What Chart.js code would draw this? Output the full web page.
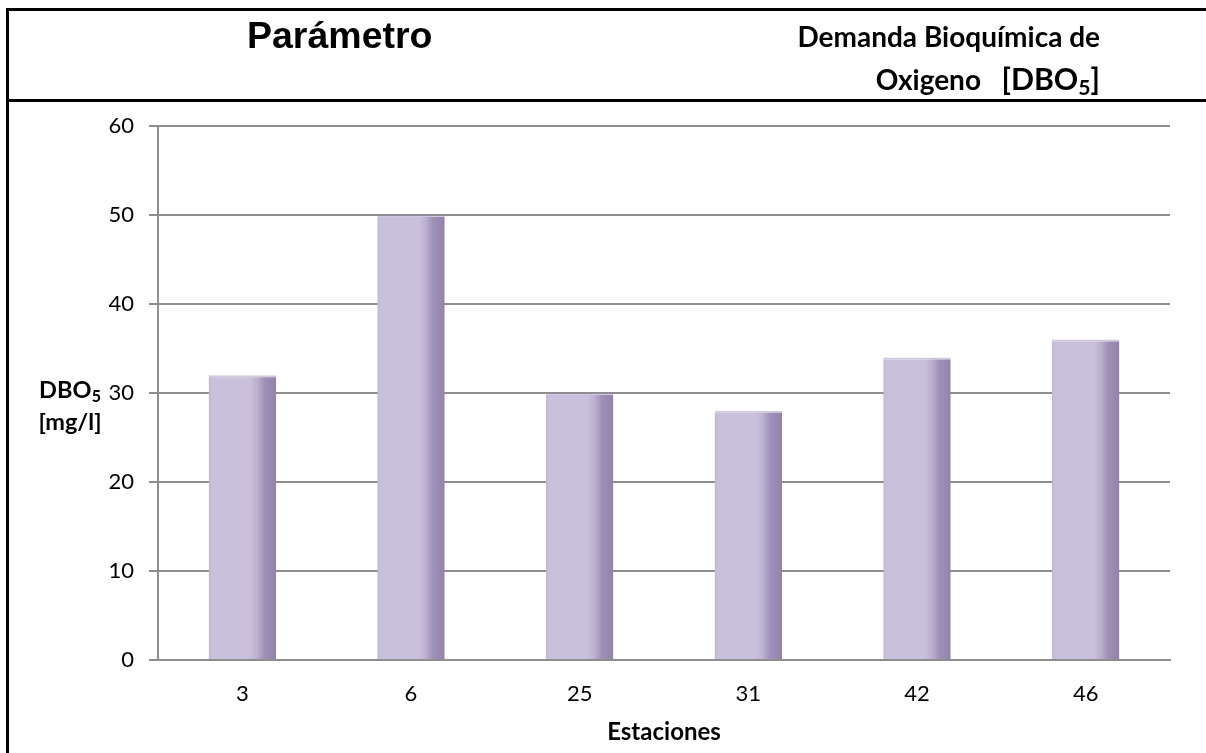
<!DOCTYPE html>
<html lang="es">
<head>
<meta charset="utf-8">
<title>Demanda Bioquímica de Oxigeno [DBO5]</title>
<script src="https://cdn.jsdelivr.net/npm/chart.js@4/dist/chart.umd.min.js"></script>
<style>
  html, body { margin: 0; padding: 0; background: #fff; }
  #wrap { position: relative; width: 1206px; height: 753px; overflow: hidden; background: #fff; }
  #c { position: absolute; left: 0; top: 0; }
  .rule { position: absolute; background: #000; }
  #param {
    position: absolute; left: 247px; top: 17px;
    font: bold 37.5px "Liberation Sans", Arial, sans-serif; line-height: 36px; color: #000;
  }
  #subject {
    position: absolute; right: 106px; top: 15px; text-align: right;
    font: bold 28px Lato, "Open Sans", sans-serif; line-height: 42px; color: #000;
    white-space: pre;
  }
  #subject .tag { font-size: 1.08em; }
  #ytitle {
    position: absolute; left: 20px; top: 373px; width: 100px; text-align: center;
    font: bold 23.5px Lato, "Open Sans", sans-serif; line-height: 32px; color: #000;
  }
  sub { font-size: 0.7em; vertical-align: -0.25em; line-height: 0; }
</style>
</head>
<body>
<div id="wrap">
  <canvas id="c" width="1206" height="753"></canvas>
  <div class="rule" style="left:6px;top:8px;width:3px;height:745px"></div>
  <div class="rule" style="left:6px;top:8px;width:1200px;height:3px"></div>
  <div class="rule" style="left:6px;top:99px;width:1200px;height:3px"></div>
  <div id="param">Parámetro</div>
  <div id="subject">Demanda Bioquímica de
Oxigeno   <span class="tag">[DBO<sub>5</sub>]</span></div>
  <div id="ytitle">DBO<sub>5</sub><br>[mg/l]</div>
</div>
<script>
// Sampling stations and their DBO5 readings (mg/l)
const stations = ['3', '6', '25', '31', '42', '46'];
const dbo5 = [32, 50, 30, 28, 34, 36];

// Value axis range
const yMin = 0;
const yMax = 60;
const yStep = 10;

const BAR_PCT = 0.4;
const gridGray = '#8e8e8e';

// Horizontal lavender shading across each bar, darker toward the right edge
function barFill(context) {
  const chart = context.chart;
  const area = chart.chartArea;
  const xScale = chart.scales.x;
  if (!area || !xScale) return '#c9c0db';
  const cx = xScale.getPixelForValue(context.dataIndex);
  const w = (area.right - area.left) / stations.length * BAR_PCT;
  const g = chart.ctx.createLinearGradient(cx - w / 2, 0, cx + w / 2, 0);
  g.addColorStop(0.00, '#c1b7d5');
  g.addColorStop(0.05, '#c9c0db');
  g.addColorStop(0.62, '#c9c0db');
  g.addColorStop(0.72, '#bbb0cf');
  g.addColorStop(0.83, '#9f90b8');
  g.addColorStop(1.00, '#9383ab');
  return g;
}

new Chart(document.getElementById('c'), {
  type: 'bar',
  data: {
    labels: stations,
    datasets: [{
      data: dbo5,
      backgroundColor: barFill,
      borderWidth: { top: 2, left: 0, right: 0, bottom: 0 },
      borderColor: 'rgba(150,132,180,0.45)',
      borderSkipped: false,
      barPercentage: BAR_PCT,
      categoryPercentage: 1.0
    }]
  },
  options: {
    responsive: false,
    animation: false,
    events: [],
    layout: { padding: { top: 126, right: 36, left: 0, bottom: 0 } },
    plugins: { legend: { display: false }, tooltip: { enabled: false } },
    scales: {
      x: {
        grid: { display: false, drawTicks: false },
        border: { display: true, color: gridGray, width: 2 },
        ticks: { color: '#000', font: { family: 'Lato', size: 22 }, padding: 21 },
        title: {
          display: true, text: 'Estaciones', color: '#000',
          font: { family: 'Lato', size: 24, weight: 'bold' },
          padding: { top: 0, bottom: 6 }
        },
        afterFit: s => { s.height = 93; }
      },
      y: {
        min: yMin, max: yMax,
        ticks: { stepSize: yStep, color: '#000', font: { family: 'Lato', size: 22 }, padding: 15 },
        grid: { color: gridGray, lineWidth: 2, tickLength: 9, drawTicks: true },
        border: { display: true, color: gridGray, width: 2 },
        afterFit: s => { s.width = 158; }
      }
    }
  }
});
</script>
</body>
</html>
